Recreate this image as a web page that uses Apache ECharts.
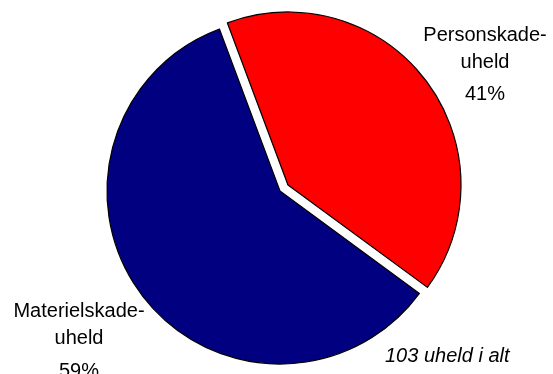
<!DOCTYPE html>
<html>
<head>
<meta charset="utf-8">
<script src="https://cdn.jsdelivr.net/npm/echarts@6/dist/echarts.min.js"></script>
<style>
html,body{margin:0;padding:0;background:#fff;}
#c{width:553px;height:374px;}
</style>
</head>
<body>
<div id="c"></div>
<script>
var categories = ['Personskade-\nuheld', 'Materielskade-\nuheld'];
var values = [42, 61];
var colors = ['#FF0000', '#000080'];
var totalSuffix = ' uheld i alt';

var total = values.reduce(function (a, b) { return a + b; }, 0);
var FONT = '"Liberation Sans", Arial, sans-serif';
var labelPos = [
  { x: 485, y: 22 },
  { x: 79, y: 298 }
];
var pctLineHeight = [36, 38];

var labelGraphics = categories.map(function (c, i) {
  var pct = Math.round(values[i] / total * 100);
  return {
    type: 'text',
    x: labelPos[i].x,
    y: labelPos[i].y,
    silent: true,
    style: {
      text: '{n|' + c + '}\n{p|' + pct + '%}',
      align: 'center',
      verticalAlign: 'top',
      rich: {
        n: { fontSize: 20, lineHeight: 27, align: 'center', fontFamily: FONT, fill: '#000' },
        p: { fontSize: 20, lineHeight: pctLineHeight[i], align: 'center', fontFamily: FONT, fill: '#000' }
      }
    }
  };
});

var chart = echarts.init(document.getElementById('c'), null, { renderer: 'canvas' });
chart.setOption({
  animation: false,
  backgroundColor: '#fff',
  graphic: labelGraphics.concat([{
    type: 'text',
    left: 385,
    top: 346,
    silent: true,
    style: {
      text: total + totalSuffix,
      font: 'italic 20px "Liberation Sans", Arial, sans-serif',
      fill: '#000'
    }
  }]),
  series: [{
    type: 'pie',
    center: [280, 191],
    radius: [0, 173],
    startAngle: 110.5,
    clockwise: true,
    selectedMode: 'single',
    selectedOffset: 10,
    emphasis: { disabled: true },
    itemStyle: { borderColor: '#000', borderWidth: 1.2 },
    labelLine: { show: false },
    label: { show: false },
    data: categories.map(function (c, i) {
      return { name: c, value: values[i], selected: i === 0, itemStyle: { color: colors[i] } };
    })
  }]
});
</script>
</body>
</html>
